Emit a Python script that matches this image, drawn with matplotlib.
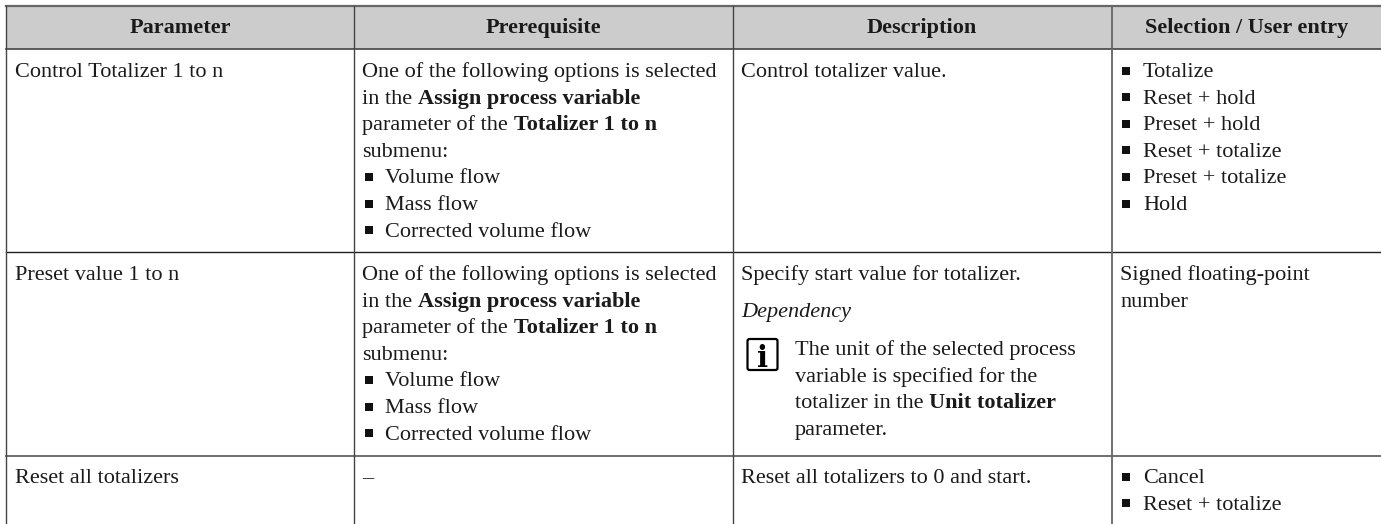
"""Parameter table page crop, drawn on a pixel-sized axes."""

import matplotlib

matplotlib.use("Agg")
import matplotlib.pyplot as plt
from matplotlib.patches import FancyBboxPatch, Rectangle

FONT = "Liberation Serif"
SIZE = 16

HEADERS = ["Parameter", "Prerequisite", "Description", "Selection / User entry"]
PARAMETERS = ["Control Totalizer 1 to n", "Preset value 1 to n", "Reset all totalizers"]
PREREQ_LEAD = [
    [("One of the following options is selected", False)],
    [("in the ", False), ("Assign process variable", True)],
    [("parameter of the ", False), ("Totalizer 1 to n", True)],
    [("submenu:", False)],
]
PREREQ_OPTIONS = ["Volume flow", "Mass flow", "Corrected volume flow"]
TOTALIZER_OPTIONS = [
    "Totalize",
    "Reset + hold",
    "Preset + hold",
    "Reset + totalize",
    "Preset + totalize",
    "Hold",
]
RESET_OPTIONS = ["Cancel", "Reset + totalize"]
NOTE_LINES = [
    [("The unit of the selected process", False)],
    [("variable is specified for the", False)],
    [("totalizer in the ", False), ("Unit totalizer", True)],
    [("parameter.", False)],
]

COL_LINES = [(6, "#444444", 1.0), (354, "#444444", 1.0), (733, "#444444", 1.0), (1112.5, "#666666", 1.3)]
ROW_LINES = [(49, "#444444", 1.2), (252, "#222222", 1.0), (456, "#555555", 1.2)]
LINE_STEP = 26.6

fig = plt.figure(figsize=(13.81, 5.24), dpi=100)
ax = fig.add_axes([0, 0, 1, 1])
ax.set_xlim(0, 1381)
ax.set_ylim(524, 0)
ax.axis("off")
renderer = fig.canvas.get_renderer()


def text_width(s: str, bold: bool) -> float:
    # trailing spaces are not counted on their own, so measure against a bar
    probe = ax.text(0, 0, s + "|", family=FONT, fontsize=SIZE,
                    weight="bold" if bold else "normal")
    bar = ax.text(0, 0, "|", family=FONT, fontsize=SIZE,
                  weight="bold" if bold else "normal")
    width = probe.get_window_extent(renderer).width - bar.get_window_extent(renderer).width
    probe.remove()
    bar.remove()
    return width


def put(x: float, y: float, s: str, **kw) -> None:
    kw.setdefault("ha", "left")
    ax.text(x, y, s, family=FONT, fontsize=SIZE, color="#1a1a1a", va="baseline", **kw)


def put_runs(x: float, y: float, runs: list[tuple[str, bool]]) -> None:
    for s, bold in runs:
        put(x, y, s, weight="bold" if bold else "normal")
        x += text_width(s, bold)


def put_bullets(x_mark: float, x_text: float, y: float, items: list[str]) -> None:
    for i, item in enumerate(items):
        base = y + i * LINE_STEP
        ax.scatter([x_mark], [base - 6.5], marker="s", s=30, color="#111111", linewidths=0)
        put(x_text, base, item)


def prerequisite(y: float) -> None:
    for i, runs in enumerate(PREREQ_LEAD):
        put_runs(362.5, y + i * LINE_STEP, runs)
    put_bullets(369, 385, y + 4 * LINE_STEP, PREREQ_OPTIONS)


# header band and grid
ax.add_patch(Rectangle((6, 6), 1375, 43, facecolor="#cccccc", edgecolor="none", zorder=0))
ax.plot([6, 1381], [6, 6], color="#666666", lw=1.6)
for y, color, lw in ROW_LINES:
    ax.plot([6, 1381], [y, y], color=color, lw=lw)
for x, color, lw in COL_LINES:
    ax.plot([x, x], [6, 524], color=color, lw=lw)

for x, label in zip([180, 543, 922, 1247], HEADERS):
    put(x, 33, label, ha="center", weight="bold")

# first column
for y, label in zip([77, 280, 483.3], PARAMETERS):
    put(15, y, label)

# second column
prerequisite(77)
prerequisite(280)
put(362.5, 483.3, "–")

# third column
put(741, 77, "Control totalizer value.")
put(741, 280, "Specify start value for totalizer.")
put(741, 316.7, "Dependency", style="italic")
for i, runs in enumerate(NOTE_LINES):
    put_runs(795, 355 + i * LINE_STEP, runs)
put(741, 483.3, "Reset all totalizers to 0 and start.")

# info icon
ax.add_patch(FancyBboxPatch((747.5, 339), 30, 31, boxstyle="round,pad=0,rounding_size=2",
                            facecolor="white", edgecolor="black", lw=1.6))
ax.text(762.5, 367, "i", family="DejaVu Serif", weight="bold", fontsize=21,
        ha="center", va="baseline", color="black")

# fourth column
put_bullets(1126.5, 1143, 77, TOTALIZER_OPTIONS)
put(1120, 280, "Signed floating-point")
put(1120, 306.7, "number")
put_bullets(1126.5, 1143, 483.3, RESET_OPTIONS)

fig.savefig("out.png", dpi=100)
